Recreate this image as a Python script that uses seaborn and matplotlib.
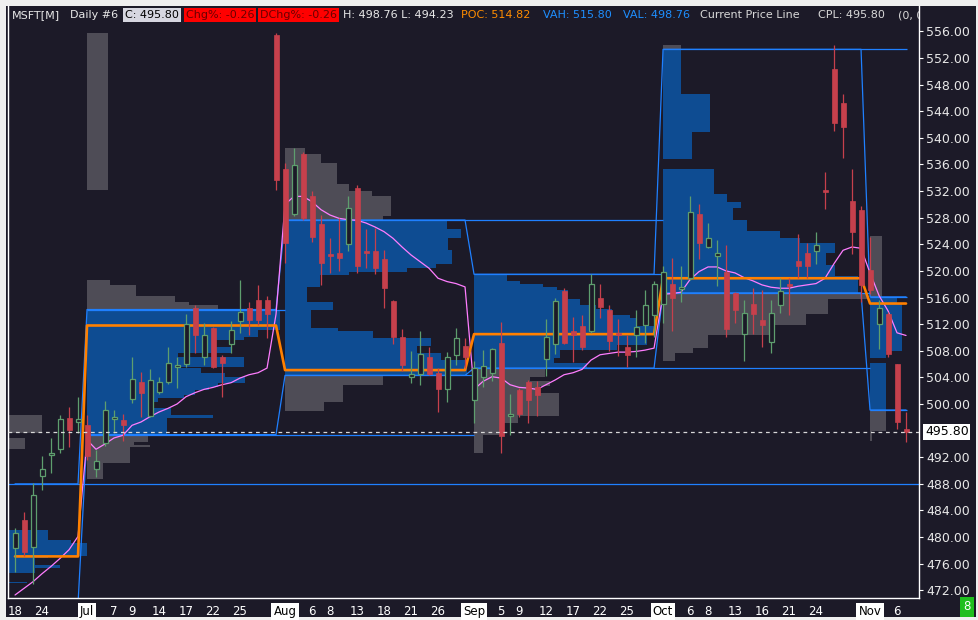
import numpy as np
import pandas as pd
import matplotlib
matplotlib.use("Agg")
import matplotlib.pyplot as plt
import matplotlib.transforms as mtransforms
from matplotlib.patches import Rectangle
import seaborn as sns

# Daily bars, 2025-06-18 .. 2025-11-07 (100 sessions)
opens = [478.3, 482.6, 478.5, 489.2, 492.3, 493.2, 497.9, 497.3, 496.8, 490.2,
         494.1, 497.8, 497.6, 500.7, 503.3, 498.2, 501.8, 503.3, 505.5, 506.0,
         514.5, 507.1, 511.4, 507.0, 509.0, 512.5, 514.5, 515.7, 515.7, 555.5,
         535.3, 528.5, 537.6, 531.3, 527.1, 522.5, 522.7, 524.0, 532.4, 522.9,
         523.0, 521.8, 515.5, 510.1, 504.0, 504.5, 507.0, 504.6, 502.2, 507.3,
         508.7, 500.6, 504.0, 504.6, 509.1, 498.2, 502.1, 503.3, 502.5, 506.7,
         509.0, 517.0, 511.0, 511.7, 510.9, 515.9, 514.1, 510.7, 508.5, 510.3,
         511.8, 513.4, 515.0, 518.1, 517.3, 518.9, 528.6, 523.6, 522.3, 519.9,
         516.7, 510.5, 515.1, 512.7, 509.3, 514.9, 518.0, 521.5, 522.7, 523.0,
         532.0, 550.4, 545.3, 530.5, 529.2, 520.1, 512.0, 513.5, 506.0, 496.3]
highs = [481.4, 483.8, 488.2, 492.2, 494.9, 498.4, 499.6, 501.1, 498.4, 493.1,
         500.5, 499.1, 498.5, 507.0, 504.8, 505.3, 504.1, 508.5, 507.0, 513.6,
         514.9, 512.2, 511.6, 507.3, 512.4, 518.6, 515.3, 517.9, 516.2, 555.7,
         536.2, 538.4, 537.8, 532.0, 528.4, 524.9, 527.9, 531.3, 532.9, 526.3,
         526.4, 523.2, 515.6, 511.3, 508.0, 511.0, 508.6, 505.4, 507.8, 511.4,
         509.9, 506.4, 508.1, 508.4, 512.3, 501.5, 502.4, 503.6, 503.5, 512.8,
         515.9, 517.5, 513.1, 513.4, 519.5, 518.0, 514.9, 512.8, 510.4, 514.2,
         517.1, 518.5, 520.7, 521.9, 520.7, 531.3, 530.1, 527.2, 524.7, 523.9,
         516.9, 515.6, 517.4, 517.1, 515.7, 518.9, 518.9, 525.6, 524.2, 525.8,
         534.9, 554.0, 546.6, 535.3, 529.7, 525.1, 515.6, 513.9, 506.0, 498.76]
lows = [474.8, 477.1, 472.9, 487.1, 489.7, 492.7, 493.5, 495.7, 491.6, 489.1,
        493.7, 495.6, 494.5, 500.1, 498.1, 498.1, 501.5, 503.0, 502.4, 505.6,
        507.6, 505.9, 505.4, 501.1, 507.7, 510.7, 510.4, 511.9, 509.9, 532.2,
        521.2, 528.3, 527.7, 524.4, 517.9, 519.7, 520.0, 523.0, 519.7, 520.5,
        519.5, 514.4, 509.0, 505.0, 503.1, 502.8, 504.3, 498.8, 500.3, 505.9,
        505.4, 497.1, 502.6, 503.5, 492.7, 495.3, 498.1, 497.1, 498.2, 504.2,
        507.5, 509.0, 506.3, 508.1, 510.7, 512.9, 507.9, 507.2, 505.5, 507.0,
        509.2, 510.0, 512.1, 511.0, 515.4, 518.6, 521.8, 523.5, 517.8, 510.0,
        512.1, 506.5, 510.5, 508.5, 507.7, 513.7, 513.4, 518.9, 518.9, 521.0,
        529.3, 541.1, 537.0, 522.5, 515.4, 516.6, 508.2, 507.0, 496.2, 494.23]
closes = [480.6, 477.7, 486.3, 490.3, 492.6, 497.8, 496.1, 497.8, 492.2, 491.4,
          499.1, 498.0, 496.8, 503.7, 501.7, 503.6, 503.3, 506.1, 505.8, 512.0,
          510.3, 510.3, 505.5, 506.1, 511.1, 513.9, 512.7, 512.7, 513.5, 533.7,
          524.2, 535.9, 528.0, 525.1, 521.2, 522.3, 522.0, 529.4, 520.8, 522.7,
          520.4, 517.4, 510.0, 505.9, 504.5, 507.5, 504.5, 502.3, 507.0, 509.9,
          507.0, 505.4, 505.7, 508.2, 495.2, 498.5, 498.5, 500.6, 501.3, 510.1,
          515.5, 509.2, 510.3, 508.6, 518.1, 514.6, 509.4, 510.4, 507.3, 511.6,
          514.9, 518.1, 519.9, 516.0, 517.5, 528.8, 524.2, 525.0, 522.7, 511.2,
          514.2, 513.7, 513.6, 511.8, 513.7, 517.0, 517.8, 520.8, 520.8, 523.9,
          531.8, 542.3, 541.7, 525.9, 517.9, 517.1, 514.5, 507.5, 497.3, 495.8]
# monthly anchored average (pink)
vwap = [471.3, 472.3, 473.3, 474.5, 475.6, 476.8, 478.1, 480.1, 494.6, 493.2,
        494.0, 494.9, 495.3, 496.8, 497.3, 498.1, 498.8, 499.35, 500.0, 501.1,
        501.7, 502.2, 502.5, 502.9, 503.2, 503.9, 504.4, 504.7, 505.4, 513.5,
        530.0, 531.2, 531.2, 530.4, 529.2, 528.4, 527.9, 527.7, 527.6, 527.2,
        526.6, 525.9, 524.9, 523.6, 522.4, 521.4, 520.4, 518.9, 518.4, 518.1,
        517.6, 502.2, 503.4, 504.1, 503.9, 502.9, 502.5, 502.4, 502.2, 502.9,
        503.6, 504.4, 504.7, 505.2, 506.6, 507.4, 507.6, 507.8, 507.8, 507.9,
        508.1, 508.4, 516.5, 516.6, 516.8, 518.7, 519.9, 520.6, 520.6, 520.0,
        519.7, 519.0, 518.5, 517.9, 517.55, 517.4, 517.4, 517.7, 517.9, 518.1,
        518.9, 521.1, 523.1, 523.6, 523.4, 519.7, 516.3, 514.0, 510.7, 510.3]

tick_idx = [0, 3, 8, 11, 13, 16, 19, 22, 25, 30, 33, 35, 38, 41, 44, 47, 51, 54,
            56, 59, 62, 65, 68, 72, 75, 77, 80, 83, 86, 89, 95, 98]
tick_labels = ["18", "24", "Jul", "7", "9", "14", "17", "22", "25", "Aug", "6", "8",
               "13", "18", "21", "26", "Sep", "5", "9", "12", "17", "22", "25",
               "Oct", "6", "8", "13", "16", "21", "24", "Nov", "6"]
month_names = ["Jul", "Aug", "Sep", "Oct", "Nov"]

# monthly volume profile levels (Jun .. Nov)
month_anchor = [-12, 8, 30, 51, 72, 95]
month_bars = [8, 22, 21, 21, 23, 5]
month_vah = [488.0, 514.2, 527.65, 519.5, 553.3, 516.1]
month_val = [470.0, 495.4, 504.3, 505.4, 516.7, 499.1]
month_poc = [477.1, 511.8, 505.1, 510.5, 518.9, 515.1]
vah_ext_end = [101.0, 30.0, 72.0, 72.0, 99.1, 99.1]
val_ext_end = [8.0, 51.0, 51.0, 95.0, 95.0, 99.1]

# profile rows: price low / high and length in bars
jun_lo = [495.6, 493.2, 479.6, 479.1, 477.1, 476.8, 475.8, 475.3, 474.55, 473.1]
jun_hi = [498.35, 494.9, 481.1, 479.6, 479.1, 477.1, 476.8, 475.8, 475.3, 473.3]
jun_w = [15.0, 13.1, 15.7, 18.2, 20.0, 15.7, 14.2, 17.0, 14.2, 13.3]

jul_lo = [532.2, 517.9, 516.2, 515.4, 514.9, 514.2, 511.1, 510.1, 509.6, 508.6,
          507.6, 507.1, 505.6, 505.4, 504.6, 504.1, 503.1, 502.6, 502.1, 501.35,
          500.85, 500.35, 499.85, 499.35, 498.35, 497.85, 495.4, 494.3, 493.8,
          493.5, 491.1, 488.8]
jul_hi = [555.7, 518.6, 517.9, 516.2, 515.4, 514.9, 514.2, 511.1, 510.1, 509.6,
          508.6, 507.6, 507.1, 505.6, 505.4, 504.6, 504.1, 503.1, 502.6, 502.1,
          501.35, 500.85, 500.35, 499.85, 499.35, 498.35, 497.85, 495.4, 494.3,
          493.8, 493.5, 491.1]
jul_w = [2.33, 2.56, 5.44, 9.78, 11.3, 14.6, 21.4, 19.0, 17.4, 14.2, 16.1, 10.1,
         17.4, 10.1, 12.7, 15.3, 17.6, 14.6, 13.5, 12.0, 10.8, 7.9, 7.4, 7.3, 9.3,
         14.0, 8.9, 6.8, 5.2, 7.0, 4.8, 1.74]

aug_lo = [537.6, 536.2, 533.1, 532.0, 531.3, 528.3, 527.65, 526.3, 524.9, 523.1,
          521.1, 520.4, 519.9, 519.4, 517.6, 515.4, 514.1, 511.4, 510.9, 509.9,
          508.7, 507.6, 506.6, 504.3, 502.8, 500.3, 498.9]
aug_hi = [538.4, 537.6, 536.2, 533.1, 532.0, 531.3, 528.3, 527.65, 526.3, 524.9,
          523.1, 521.1, 520.4, 519.9, 519.4, 517.6, 515.4, 514.1, 511.4, 510.9,
          509.9, 508.7, 507.6, 506.6, 504.3, 502.8, 500.3]
aug_w = [2.2, 4.0, 5.8, 7.1, 9.7, 11.8, 10.9, 18.0, 19.5, 18.1, 18.6, 16.8, 13.6,
         7.1, 3.9, 2.4, 5.3, 2.9, 5.9, 9.8, 16.2, 14.7, 17.3, 20.2, 10.9, 6.4, 4.3]

sep_lo = [518.5, 518.0, 517.6, 517.1, 515.8, 514.9, 514.3, 513.4, 512.9, 511.7,
          510.7, 508.9, 508.1, 506.9, 506.1, 505.4, 504.1, 503.4, 502.7, 501.6,
          498.2, 497.1, 495.3, 492.6]
sep_hi = [519.5, 518.5, 518.0, 517.6, 517.1, 515.8, 514.9, 514.3, 513.4, 512.9,
          511.7, 510.7, 508.9, 508.1, 506.9, 506.1, 505.4, 504.1, 503.4, 502.7,
          501.6, 498.2, 497.1, 495.3]
sep_w = [3.7, 5.1, 7.7, 9.2, 10.4, 11.8, 13.6, 15.3, 17.3, 18.1, 20.1, 19.2, 15.9,
         9.6, 8.9, 12.6, 7.9, 6.2, 8.4, 7.3, 9.4, 4.9, 3.2, 1.0]

oct_lo = [553.3, 546.6, 540.9, 536.8, 531.6, 530.4, 529.5, 527.6, 526.0, 525.0,
          524.2, 522.7, 520.9, 519.2, 516.7, 515.8, 513.5, 511.9, 510.3, 508.4,
          507.6, 506.4]
oct_hi = [554.0, 553.3, 546.6, 540.9, 535.3, 531.6, 530.4, 529.5, 527.6, 526.0,
          525.0, 524.2, 522.7, 520.9, 519.2, 516.7, 515.8, 513.5, 511.9, 510.3,
          508.4, 507.6]
oct_w = [2.0, 2.0, 5.2, 3.2, 5.7, 7.1, 8.7, 7.8, 9.3, 13.0, 15.2, 19.1, 18.1,
         19.1, 21.7, 22.8, 18.3, 15.9, 12.3, 5.0, 3.3, 1.3]

nov_lo = [516.1, 515.1, 508.0, 506.9, 499.1, 496.0, 494.4]
nov_hi = [525.2, 516.1, 515.1, 508.0, 506.1, 499.1, 496.0]
nov_w = [1.33, 3.0, 3.56, 1.78, 1.78, 1.78, 0.22]

profiles = [(jun_lo, jun_hi, jun_w), (jul_lo, jul_hi, jul_w), (aug_lo, aug_hi, aug_w),
            (sep_lo, sep_hi, sep_w), (oct_lo, oct_hi, oct_w), (nov_lo, nov_hi, nov_w)]

# colours
BG = "#1c1a28"
PROF_BLUE = "#0e4c92"
PROF_GRAY = "#4e4c56"
LINE_BLUE = "#1f80ff"
ORANGE = "#ff8000"
PINK = "#ff7dff"
RED = "#c6404c"
GREEN = "#5e9e6e"

sns.set_theme(style="dark")
plt.rcParams["font.family"] = ["DejaVu Sans"]

W, H = 979, 620
fig = plt.figure(figsize=(W / 100, H / 100), dpi=100, facecolor="#efefef")
# dark panel behind plot and axis strips
fig.patches.append(Rectangle((6 / W, 3 / H), 970 / W, 611 / H, transform=fig.transFigure,
                             facecolor=BG, edgecolor="none", zorder=-5))
ax = fig.add_axes([8 / W, 22 / H, 911 / W, 592 / H])
ax.set_zorder(2)
ax.set_facecolor(BG)

# volume profiles
for m, (lo, hi, w) in enumerate(profiles):
    lo = np.array(lo)
    hi = np.array(hi)
    inside = (lo >= month_val[m] - 1e-6) & (hi <= month_vah[m] + 1e-6)
    cols = np.where(inside, PROF_BLUE, PROF_GRAY)
    ax.barh((lo + hi) / 2, w, height=hi - lo, left=month_anchor[m], color=cols,
            linewidth=0, align="center", zorder=1)

# value area level lines
for m in range(len(month_anchor)):
    x0 = max(month_anchor[m], -1)
    ax.hlines(month_vah[m], x0, vah_ext_end[m], color=LINE_BLUE, lw=0.9, zorder=2)
    ax.hlines(month_val[m], x0, val_ext_end[m], color=LINE_BLUE, lw=0.9, zorder=2)

# per-bar month levels (joined through bar centres)
levels = pd.DataFrame({
    "x": np.arange(len(closes)),
    "poc": np.repeat(month_poc, month_bars),
    "vah": np.repeat(month_vah, month_bars),
    "val": np.repeat(month_val, month_bars),
    "vwap": vwap,
})
sns.lineplot(data=levels, x="x", y="vah", ax=ax, color=LINE_BLUE, lw=0.9, zorder=2)
sns.lineplot(data=levels, x="x", y="val", ax=ax, color=LINE_BLUE, lw=0.9, zorder=2)
sns.lineplot(data=levels, x="x", y="vwap", ax=ax, color=PINK, lw=0.9, zorder=3)
sns.lineplot(data=levels, x="x", y="poc", ax=ax, color=ORANGE, lw=1.9, zorder=3)

# candles
df = pd.DataFrame({"o": opens, "h": highs, "l": lows, "c": closes})
df["x"] = np.arange(len(df))
df["bot"] = df[["o", "c"]].min(axis=1)
df["hgt"] = (df["c"] - df["o"]).abs().clip(lower=0.3)
up = df[df["c"] >= df["o"]]
dn = df[df["c"] < df["o"]]
ax.vlines(up["x"], up["l"], up["h"], color=GREEN, lw=0.9, zorder=4)
ax.vlines(dn["x"], dn["l"], dn["h"], color=RED, lw=0.9, zorder=4)
ax.bar(up["x"], up["hgt"], bottom=up["bot"], width=0.56, facecolor=BG,
       edgecolor=GREEN, linewidth=0.9, zorder=5)
ax.bar(dn["x"], dn["hgt"], bottom=dn["bot"], width=0.56, facecolor=RED,
       edgecolor=RED, linewidth=0.5, zorder=5)

# current price line
last = closes[-1]
ax.axhline(last, color="#d8d8d8", lw=0.9, ls=(0, (3, 3)), zorder=6)

ax.set_xlim(-0.78, 100.44)
ax.set_ylim(470.85, 559.81)
ax.set_xlabel("")
ax.set_ylabel("")
ax.grid(False)

# axes
ax.yaxis.tick_right()
yt = [t for t in range(472, 557, 4) if t != 496]
ax.set_yticks(yt)
ax.set_yticklabels([f"{t:.2f}" for t in yt])
ax.tick_params(axis="y", colors="white", labelcolor="#e8e8e8", labelsize=9,
               length=3, width=0.8, pad=2, direction="out")
ax.set_xticks(tick_idx)
ax.set_xticklabels(tick_labels)
ax.tick_params(axis="x", colors="white", labelcolor="white", labelsize=8.5,
               length=3, width=0.8, pad=2, direction="out")
for lbl in ax.get_xticklabels():
    if lbl.get_text() in month_names:
        lbl.set_color("black")
        lbl.set_bbox(dict(facecolor="white", edgecolor="none", pad=1.5))
for side in ["left", "bottom", "right"]:
    ax.spines[side].set_color("white")
    ax.spines[side].set_linewidth(1.0)
ax.spines["top"].set_visible(False)

trans = mtransforms.blended_transform_factory(ax.transAxes, ax.transData)
ax.text(1.0066, last, f"{last:.2f}", transform=trans, ha="left", va="center",
        fontsize=9, color="black", clip_on=False,
        bbox=dict(facecolor="white", edgecolor="none", pad=1.2), zorder=10)

# header line
header = [
    ("MSFT[M]", 12, "#e8e8e8", None),
    ("Daily #6", 70, "#e8e8e8", None),
    ("C: 495.80", 125, "black", "#d6d6e0"),
    ("Chg%: -0.26", 186, "#6a0000", "#ff0000"),
    ("DChg%: -0.26", 260, "#6a0000", "#ff0000"),
    ("H: 498.76 L: 494.23", 343, "#e8e8e8", None),
    ("POC: 514.82", 461, "#ff8c00", None),
    ("VAH: 515.80", 543, "#1e8fff", None),
    ("VAL: 498.76", 623, "#1e8fff", None),
    ("Current Price Line", 700, "#d8d8d8", None),
    ("CPL: 495.80", 818, "#d8d8d8", None),
    ("(0, 0)", 898, "#d8d8d8", None),
]
for txt, xp, col, bg in header:
    kw = {}
    if bg is not None:
        kw["bbox"] = dict(facecolor=bg, edgecolor="none", pad=1.3)
    ax.text(xp / W, 1 - 15 / H, txt, transform=fig.transFigure, ha="left",
            va="center", fontsize=8, color=col, clip_on=True, zorder=10, **kw)

fig.text(967 / W, 1 - 607 / H, "8", ha="center", va="center", fontsize=8.5,
         color="white", bbox=dict(facecolor="#1fbf1f", edgecolor="none", pad=2.5))

fig.savefig("out.png", dpi=100, facecolor=fig.get_facecolor())
